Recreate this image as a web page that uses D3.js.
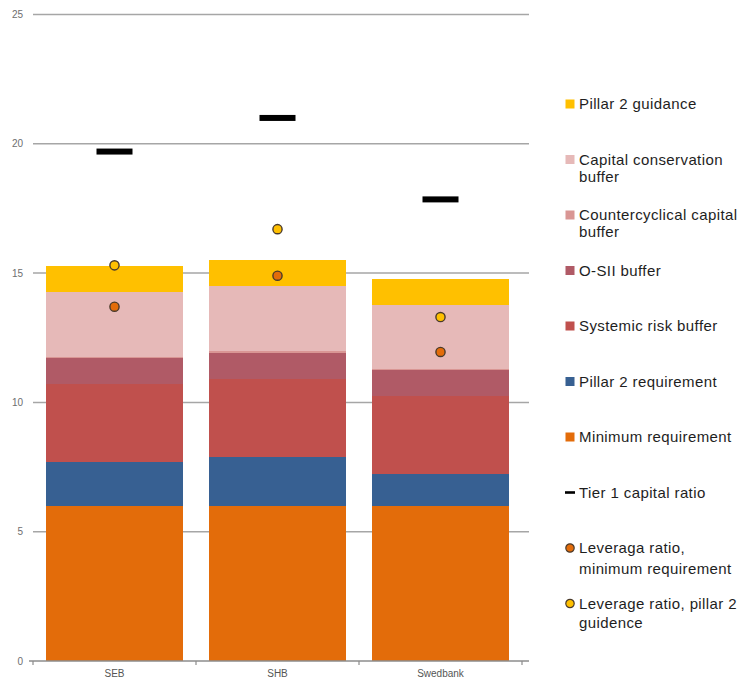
<!DOCTYPE html>
<html>
<head>
<meta charset="utf-8">
<script src="https://cdn.jsdelivr.net/npm/d3@7"></script>
<style>
  html, body { margin: 0; padding: 0; background: #fff; }
  svg { display: block; }
</style>
</head>
<body>
<svg id="chart" width="747" height="679"></svg>
<script>
// Banks on the x axis
const categories = ["SEB", "SHB", "Swedbank"];

// Stacked capital requirement components (per cent of risk-weighted assets)
const minimumRequirement     = [6.0, 6.0, 6.0];
const pillar2Requirement     = [1.7, 1.9, 1.25];
const systemicRiskBuffer     = [3.0, 3.0, 3.0];
const osiiBuffer             = [1.0, 1.0, 1.0];
const countercyclicalBuffer  = [0.07, 0.1, 0.03];
const capitalConservation    = [2.5, 2.5, 2.5];
const pillar2Guidance        = [1.0, 1.0, 1.0];

// Overlay markers
const tier1CapitalRatio      = [19.7, 21.0, 17.85];
const leverageMinimum        = [13.7, 14.9, 11.95];
const leveragePillar2        = [15.3, 16.7, 13.3];

// Axis ticks
const yTicks = [0, 5, 10, 15, 20, 25];

// Stack order, bottom to top
const seriesKeys = ["min", "p2r", "srb", "osii", "ccyb", "ccb", "p2g"];
const seriesValues = {
  min: minimumRequirement, p2r: pillar2Requirement, srb: systemicRiskBuffer,
  osii: osiiBuffer, ccyb: countercyclicalBuffer, ccb: capitalConservation, p2g: pillar2Guidance
};
const colors = {
  min: "#e36c0a", p2r: "#376092", srb: "#c0504d", osii: "#b05a66",
  ccyb: "#d99694", ccb: "#e6b9b8", p2g: "#ffc000"
};

const rows = categories.map((c, i) => {
  const r = { bank: c };
  seriesKeys.forEach(k => r[k] = seriesValues[k][i]);
  return r;
});

const svg = d3.select("#chart");
const plotLeft = 33, plotRight = 522, plotTop = 14.5, plotBottom = 661;

const x = d3.scaleBand().domain(categories).range([plotLeft, plotRight])
  .paddingInner(0.165).paddingOuter(0.0825);
const y = d3.scaleLinear().domain([0, 25]).range([plotBottom, plotTop]);

// Horizontal gridlines
svg.append("g").selectAll("line").data(yTicks.filter(t => t > 0)).join("line")
  .attr("x1", plotLeft).attr("x2", 529)
  .attr("y1", d => y(d)).attr("y2", d => y(d))
  .attr("stroke", "#a6a6a6").attr("stroke-width", 1.5);

// Y tick labels
svg.append("g").selectAll("text").data(yTicks).join("text")
  .attr("x", 23).attr("y", d => y(d)).attr("dy", "0.35em")
  .attr("text-anchor", "end")
  .attr("font-family", "Liberation Sans, Arial, sans-serif")
  .attr("font-size", 10).attr("fill", "#6e6e6e")
  .text(d => d);

// Stacked bars
const stacked = d3.stack().keys(seriesKeys)(rows);
svg.append("g").attr("shape-rendering", "crispEdges")
  .selectAll("g").data(stacked).join("g")
  .attr("fill", d => colors[d.key])
  .selectAll("rect").data(d => d).join("rect")
  .attr("x", d => x(d.data.bank))
  .attr("width", x.bandwidth())
  .attr("y", d => y(d[1]))
  .attr("height", d => y(d[0]) - y(d[1]));

// Baseline axis with band-edge ticks
const axisG = svg.append("g");
axisG.append("line").attr("x1", plotLeft - 4).attr("x2", 529)
  .attr("y1", plotBottom).attr("y2", plotBottom)
  .attr("stroke", "#8c8c8c").attr("stroke-width", 1.5);
const edges = [plotLeft].concat(categories.map(c => x(c) + x.bandwidth() + x.step() * x.paddingInner() / 2));
axisG.selectAll("line.tick").data(edges).join("line").attr("class", "tick")
  .attr("x1", d => d).attr("x2", d => d)
  .attr("y1", plotBottom).attr("y2", plotBottom + 4)
  .attr("stroke", "#8c8c8c").attr("stroke-width", 1.2);

// Category labels
svg.append("g").selectAll("text").data(categories).join("text")
  .attr("x", d => x(d) + x.bandwidth() / 2).attr("y", 676.5)
  .attr("text-anchor", "middle")
  .attr("font-family", "Liberation Sans, Arial, sans-serif")
  .attr("font-size", 10).attr("fill", "#555")
  .text(d => d);

// Tier 1 capital ratio dashes
svg.append("g").selectAll("rect").data(categories).join("rect")
  .attr("x", d => x(d) + x.bandwidth() / 2 - 18)
  .attr("y", (d, i) => y(tier1CapitalRatio[i]) - 3)
  .attr("width", 36).attr("height", 6).attr("fill", "#000");

// Leverage ratio markers
const dots = svg.append("g");
dots.selectAll("circle.lmin").data(categories).join("circle").attr("class", "lmin")
  .attr("cx", d => x(d) + x.bandwidth() / 2)
  .attr("cy", (d, i) => y(leverageMinimum[i]))
  .attr("r", 4.6).attr("fill", "#e36c0a").attr("stroke", "#4a3a2a").attr("stroke-width", 1.4);
dots.selectAll("circle.lp2").data(categories).join("circle").attr("class", "lp2")
  .attr("cx", d => x(d) + x.bandwidth() / 2)
  .attr("cy", (d, i) => y(leveragePillar2[i]))
  .attr("r", 4.6).attr("fill", "#ffc000").attr("stroke", "#4a3a2a").attr("stroke-width", 1.4);

// Legend
const legendItems = [
  { kind: "square", color: colors.p2g,  lines: ["Pillar 2 guidance"] },
  { kind: "square", color: colors.ccb,  lines: ["Capital conservation", "buffer"], lh: 17 },
  { kind: "square", color: colors.ccyb, lines: ["Countercyclical capital", "buffer"], lh: 17 },
  { kind: "square", color: colors.osii, lines: ["O-SII buffer"] },
  { kind: "square", color: colors.srb,  lines: ["Systemic risk buffer"] },
  { kind: "square", color: colors.p2r,  lines: ["Pillar 2 requirement"] },
  { kind: "square", color: colors.min,  lines: ["Minimum requirement"] },
  { kind: "dash",   color: "#000",      lines: ["Tier 1 capital ratio"] },
  { kind: "circle", color: "#e36c0a",   lines: ["Leveraga ratio,", "minimum requirement"], lh: 21 },
  { kind: "circle", color: "#ffc000",   lines: ["Leverage ratio, pillar 2", "guidence"], lh: 19 }
];
const legend = svg.append("g");
const lg = legend.selectAll("g").data(legendItems).join("g")
  .attr("transform", (d, i) => `translate(570,${104 + i * 55.5})`);
lg.each(function(d) {
  const g = d3.select(this);
  if (d.kind === "square") {
    g.append("rect").attr("x", -4.5).attr("y", -4.5).attr("width", 9).attr("height", 9).attr("fill", d.color);
  } else if (d.kind === "dash") {
    g.append("rect").attr("x", -5).attr("y", -1.3).attr("width", 10).attr("height", 2.6).attr("fill", d.color);
  } else {
    g.append("circle").attr("r", 4.2).attr("fill", d.color).attr("stroke", "#4a3a2a").attr("stroke-width", 1.2);
  }
  const t = g.append("text").attr("x", 9).attr("y", 5)
    .attr("font-family", "Liberation Sans, Arial, sans-serif")
    .attr("font-size", 15).attr("letter-spacing", 0.4).attr("fill", "#1e1e1e");
  d.lines.forEach((line, j) => {
    t.append("tspan").attr("x", 9).attr("y", 5 + j * (d.lh || 17)).text(line);
  });
});
</script>
</body>
</html>
